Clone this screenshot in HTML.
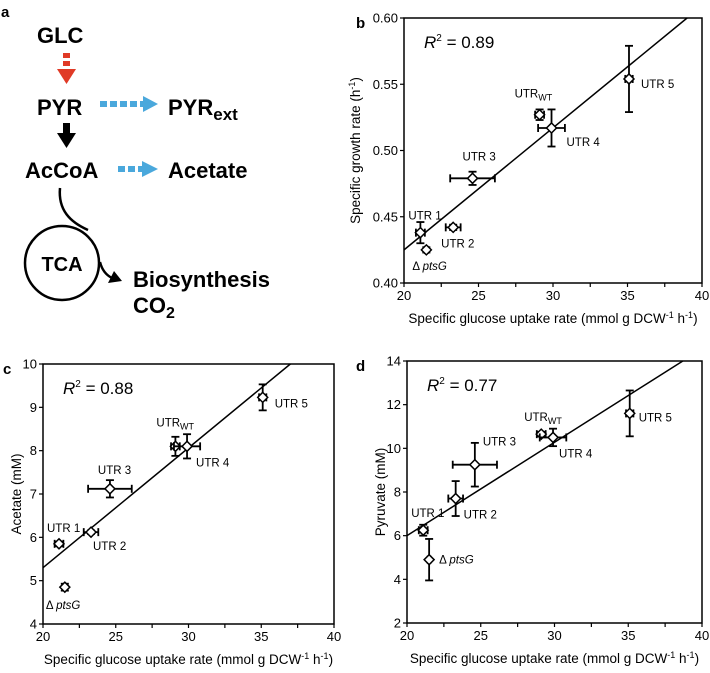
<!DOCTYPE html>
<html><head><meta charset="utf-8">
<style>
html,body{margin:0;padding:0;background:#fff;}
svg{display:block;font-family:"Liberation Sans",Arial,sans-serif;}
</style></head>
<body>
<svg id="fig" width="710" height="673" viewBox="0 0 710 673">
<g font-weight="bold" fill="#000">
  <text x="1" y="17" font-size="15">a</text>
  <text x="37" y="43" font-size="22">GLC</text>
  <g fill="#e03a26">
    <rect x="63" y="53" width="7" height="5"/><rect x="63" y="61" width="7" height="5"/>
    <polygon points="57,69 76,69 66.5,84"/>
  </g>
  <text x="37" y="115" font-size="22">PYR</text>
  <g fill="#4aa8dc">
    <rect x="100" y="101" width="7" height="6"/><rect x="110" y="101" width="7" height="6"/><rect x="120" y="101" width="7" height="6"/><rect x="130" y="101" width="7" height="6"/><rect x="140" y="101" width="4" height="6"/>
    <polygon points="143,96 158,104 143,112"/>
  </g>
  <text x="168" y="115" font-size="22">PYR<tspan font-size="17" dy="5">ext</tspan></text>
  <g>
    <rect x="63" y="123" width="7" height="12"/><polygon points="57,133 76,133 66.5,148"/>
  </g>
  <text x="25" y="178" font-size="22">AcCoA</text>
  <g fill="#4aa8dc">
    <rect x="118" y="166" width="7" height="6"/><rect x="128" y="166" width="7" height="6"/><rect x="138" y="166" width="5" height="6"/>
    <polygon points="142,161 158,169 142,177"/>
  </g>
  <text x="168" y="178" font-size="22">Acetate</text>
  <path d="M60,188 C58,210 70,222 88,230" fill="none" stroke="#000" stroke-width="2.5"/>
  <circle cx="62" cy="263" r="37" fill="none" stroke="#000" stroke-width="2.5"/>
  <text x="62" y="271" font-size="20" text-anchor="middle">TCA</text>
  <path d="M100,262 C102,270 106,275 112,278" fill="none" stroke="#000" stroke-width="2.5"/>
  <polygon points="108,283 122,281 114,271"/>
  <text x="133" y="287" font-size="22">Biosynthesis</text>
  <text x="133" y="313" font-size="22">CO<tspan font-size="16" dy="5">2</tspan></text>
</g>
<g id="charts"></g>
</svg>
<script>
// shared x data
const labels = ["UTR 1","ptsG","UTR 2","UTR 3","UTR WT","UTR 4","UTR 5"];
const xVals = [21.1,21.5,23.3,24.6,29.1,29.9,35.1];
const xErr = [0.3,0.1,0.5,1.5,0.3,0.9,0.25];
// panel b
const bVals = [0.438,0.425,0.442,0.479,0.527,0.517,0.554];
const bErr = [0.008,0.002,0.002,0.005,0.004,0.014,0.025];
const bFit = [[20,0.425],[39,0.60]];
const bYTicks = [0.40,0.45,0.50,0.55,0.60];
// panel c
const cVals = [5.85,4.85,6.12,7.12,8.1,8.1,9.23];
const cErr = [0.05,0.08,0.04,0.2,0.22,0.28,0.3];
const cFit = [[20,5.3],[37,10]];
const cYTicks = [4,5,6,7,8,9,10];
// panel d
const dVals = [6.25,4.9,7.7,9.25,10.65,10.5,11.6];
const dErr = [0.25,0.95,0.8,1.0,0.1,0.4,1.05];
const dFit = [[20,6],[38.7,14]];
const dYTicks = [2,4,6,8,10,12,14];
const xTicks = [20,25,30,35,40];

const NS="http://www.w3.org/2000/svg";
const root=document.getElementById('charts');
function mk(tag,attrs,parent){const e=document.createElementNS(NS,tag);for(const k in attrs)e.setAttribute(k,attrs[k]);parent.appendChild(e);return e;}

function chart(cfg){
  const g=mk('g',{},root);
  
  
  const L=cfg.L,R=cfg.R,T=cfg.T,B=cfg.B;
  const sx=v=>L+(v-20)/20*(R-L);
  const sy=v=>B-(v-cfg.ymin)/(cfg.ymax-cfg.ymin)*(B-T);
  const frame=mk('rect',{x:L,y:T,width:R-L,height:B-T,fill:'none',stroke:'#000','stroke-width':1.5},g);
  
  
  for(let v=20;v<=40;v+=2.5){const t=mk('line',{x1:sx(v),x2:sx(v),y1:B,y2:B+4,stroke:'#000','stroke-width':1.2},g);
    
    }
  xTicks.forEach(v=>{const t=mk('text',{x:sx(v),y:B+17,'font-size':13,'text-anchor':'middle'},g);t.textContent=v;
    
    });
  cfg.yTicks.forEach(v=>{const t=mk('line',{x1:L-4,x2:L,y1:sy(v),y2:sy(v),stroke:'#000','stroke-width':1.2},g);
    
    
    const tl=mk('text',{x:L-6,y:sy(v)+4.5,'font-size':13,'text-anchor':'end'},g);tl.textContent=cfg.fmt(v);
    
    });
  const xt=mk('text',{x:(L+R)/2,y:B+40,'font-size':13.5,'text-anchor':'middle'},g);
  xt.innerHTML='Specific glucose uptake rate (mmol g DCW<tspan dy="-5" font-size="9">-1</tspan><tspan dy="5"> h</tspan><tspan dy="-5" font-size="9">-1</tspan><tspan dy="5">)</tspan>';
  
  
  const yt=mk('text',{x:0,y:0,'font-size':13.5,'text-anchor':'middle',transform:`translate(${L-cfg.ytOff},${(T+B)/2}) rotate(-90)`},g);
  yt.innerHTML=cfg.ytitle;
  
  
  const pl=mk('text',{x:cfg.plx,y:T+10,'font-size':15,'font-weight':'bold'},g);pl.textContent=cfg.letter;
  
  
  const r2=mk('text',{x:L+20,y:T+30,'font-size':17},g);
  r2.innerHTML='<tspan font-style="italic">R</tspan><tspan dy="-7" font-size="10">2</tspan><tspan dy="7"> = '+cfg.r2+'</tspan>';
  
  
  const fl=mk('line',{x1:sx(cfg.fit[0][0]),y1:sy(cfg.fit[0][1]),x2:sx(cfg.fit[1][0]),y2:sy(cfg.fit[1][1]),stroke:'#000','stroke-width':1.5},g);
  
  
  cfg.vals.forEach((v,i)=>{
    const pg=mk('g',{},g);
    
    
    const cx=sx(xVals[i]),cy=sy(v);
    const x1=sx(xVals[i]-xErr[i]),x2=sx(xVals[i]+xErr[i]);
    const y1=sy(v+cfg.err[i]),y2=sy(v-cfg.err[i]);
    const st={stroke:'#000','stroke-width':1.8};
    mk('line',Object.assign({x1:x1,x2:x2,y1:cy,y2:cy},st),pg);
    mk('line',Object.assign({x1:x1,x2:x1,y1:cy-4,y2:cy+4},st),pg);
    mk('line',Object.assign({x1:x2,x2:x2,y1:cy-4,y2:cy+4},st),pg);
    mk('line',Object.assign({x1:cx,x2:cx,y1:y1,y2:y2},st),pg);
    mk('line',Object.assign({x1:cx-4,x2:cx+4,y1:y1,y2:y1},st),pg);
    mk('line',Object.assign({x1:cx-4,x2:cx+4,y1:y2,y2:y2},st),pg);
    mk('polygon',{points:`${cx},${cy-5} ${cx+5},${cy} ${cx},${cy+5} ${cx-5},${cy}`,fill:'#fff',stroke:'#000','stroke-width':1.5},pg);
    const o=cfg.lab[i];
    const t=mk('text',{x:cx+o[0],y:cy+o[1],'font-size':11.5},pg);
    if(i===1) t.innerHTML='Δ <tspan font-style="italic">ptsG</tspan>';
    else if(i===4) t.innerHTML='UTR<tspan font-size="9" dy="3">WT</tspan>';
    else t.textContent=labels[i];
    
    
  });
}
chart({name:'panel-b-growth-chart',letter:'b',plx:356,L:404,R:702,T:18,B:283,ymin:0.4,ymax:0.6,yTicks:bYTicks,fmt:v=>v.toFixed(2),
  ytitle:'Specific growth rate (h<tspan dy="-5" font-size="9">-1</tspan><tspan dy="5">)</tspan>',ytOff:44,r2:'0.89',fit:bFit,vals:bVals,err:bErr,
  lab:[[-12,-13],[-14,20],[-12,20],[-10,-18],[-25,-17],[15,18],[12,9]]});
chart({name:'panel-c-acetate-chart',letter:'c',plx:3,L:43,R:334,T:364,B:624,ymin:4,ymax:10,yTicks:cYTicks,fmt:v=>v,
  ytitle:'Acetate (mM)',ytOff:22,r2:'0.88',fit:cFit,vals:cVals,err:cErr,
  lab:[[-12,-12],[-19,22],[2,18],[-12,-15],[-19,-20],[9,20],[12,10]]});
chart({name:'panel-d-pyruvate-chart',letter:'d',plx:356,L:407,R:702,T:361,B:623,ymin:2,ymax:14,yTicks:dYTicks,fmt:v=>v,
  ytitle:'Pyruvate (mM)',ytOff:22,r2:'0.77',fit:dFit,vals:dVals,err:dErr,
  lab:[[-12,-13],[10,4],[8,20],[8,-19],[-17,-13],[6,20],[9,8]]});
</script>
</body></html>
